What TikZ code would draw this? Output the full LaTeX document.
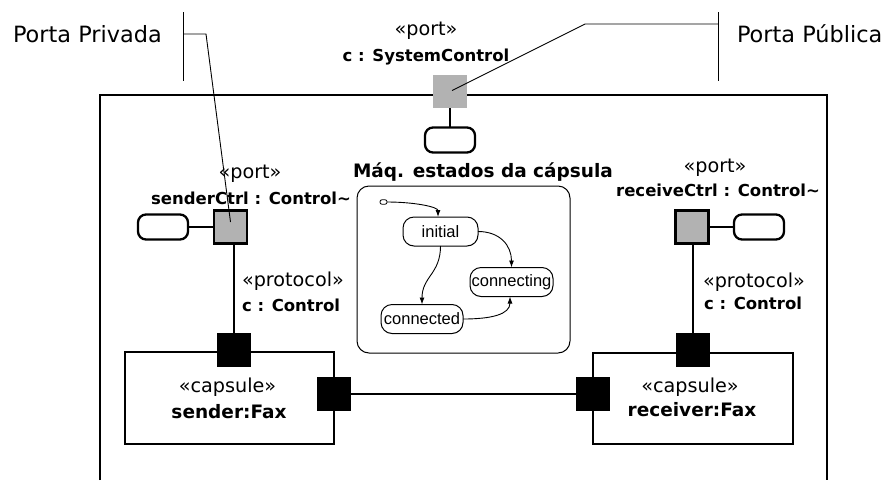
\documentclass[tikz,border=0pt]{standalone}
\usepackage{fontspec}
\setmainfont{DejaVu Sans}
\newfontfamily\statefont{Liberation Sans}
\usetikzlibrary{arrows.meta,calc}
\definecolor{portgray}{RGB}{178,178,178}
\newcommand\fsz[1]{\fontsize{#1}{#1}\selectfont}

\begin{document}
\begin{tikzpicture}[x=1pt,y=-1pt,
  every node/.style={inner sep=0pt,outer sep=0pt},
  ann/.style={anchor=base west,font=\fsz{22.4}},
  stereo/.style={anchor=base,font=\fsz{19.2}},
  bsmall/.style={anchor=base,font=\bfseries\fsz{16.5}},
  bbig/.style={anchor=base,font=\bfseries\fsz{18.5}},
  frame/.style={line width=2.5pt,line join=miter},
  wire/.style={line width=2.4pt},
  lead/.style={line width=0.9pt},
  topport/.style={fill=portgray,minimum width=34pt,minimum height=33pt},
  port/.style={draw,line width=2.3pt,fill=portgray,minimum size=33pt},
  relay/.style={fill=black,minimum size=34pt},
  pill/.style={draw,line width=2.3pt,fill=white,rounded corners=8pt,minimum width=50pt,minimum height=25pt},
  capsulebox/.style={draw,line width=1.2pt},
  smbox/.style={draw,line width=1pt,rounded corners=12pt},
  statebox/.style={draw,line width=1pt,rounded corners=11pt,minimum height=29pt,font=\statefont\fsz{16.5}},
  trans/.style={line width=0.9pt,-{Latex[length=7pt,width=5pt]}}
]
\useasboundingbox (0,0) rectangle (885,480);

% outer structure frame (open at the bottom)
\draw[frame] (100,480) -- (100,95) -- (827,95) -- (827,480);

% capsule parts
\node[capsulebox,minimum width=209pt,minimum height=92pt] (snd) at (229.5,398) {};
\node[capsulebox,minimum width=200pt,minimum height=91pt] (rcv) at (693,398.5) {};
\node[stereo] (sndSt) at (227.5,392) {«capsule»};
\node[bbig] (sndNm) at (229,418) {sender:Fax};
\node[stereo] (rcvSt) at (690,392) {«capsule»};
\node[bbig] (rcvNm) at (692,416) {receiver:Fax};

% public port on the frame
\node[topport] (pTop) at (450,91.5) {};
\node[pill] (ifTop) at (450,140) {};
\draw[wire] (pTop.south) -- (ifTop.north);
\node[stereo] (lTop1) at (426,35) {«port»};
\node[bsmall] (lTop2) at (426,61) {c : SystemControl};

% end ports
\node[port] (pSnd) at (230.5,227) {};
\node[pill] (ifSnd) at (163,227) {};
\draw[wire] (ifSnd.east) -- (pSnd.west);
\node[port] (pRcv) at (692,227) {};
\node[pill] (ifRcv) at (759,227) {};
\draw[wire] (pRcv.east) -- (ifRcv.west);
\node[stereo] (lSnd1) at (250,178) {«port»};
\node[bsmall] (lSnd2) at (251,204) {senderCtrl : Control\textasciitilde};
\node[stereo] (lRcv1) at (715,172) {«port»};
\node[bsmall] (lRcv2) at (718,196) {receiveCtrl : Control\textasciitilde};

% relay ports of the parts
\node[relay] (bSndTop) at (234,350) {};
\node[relay] (bSndR) at (334,394) {};
\node[relay] (bRcvL) at (593,394) {};
\node[relay] (bRcvTop) at (693,350) {};
\draw[wire] (bSndTop.north) -- (bSndTop.north |- pSnd.south);
\draw[wire] (bRcvTop.north) -- (bRcvTop.north |- pRcv.south);
\draw[wire] (bSndR.east) -- (bRcvL.west);

% protocol labels
\node[stereo,anchor=base west] (protS1) at (242,286) {«protocol»};
\node[bsmall,anchor=base west] (protS2) at (242,311) {c : Control};
\node[stereo,anchor=base west] (protR1) at (703,287) {«protocol»};
\node[bsmall,anchor=base west] (protR2) at (704,309) {c : Control};

% capsule state machine
\node[bbig,anchor=base west] (smTitle) at (353,177) {Máq. estados da cápsula};
\node[smbox,minimum width=213pt,minimum height=167pt] (sm) at (463.5,269.5) {};
\node[draw,line width=0.8pt,rounded corners=2pt,minimum width=7pt,minimum height=4.5pt] (i0) at (383.5,202) {};
\node[statebox,minimum width=75pt] (sInit) at (440.5,231.5) {initial};
\node[statebox,minimum width=83pt] (sCing) at (511.5,282) {connecting};
\node[statebox,minimum width=82pt] (sCed) at (422,319) {connected};
\draw[trans] (i0.east) .. controls +(28,0) and +(0,-10) .. ([xshift=-2.5pt]sInit.north);
\draw[trans] (sInit.east) .. controls +(22,0) and +(0,-22) .. (sCing.north);
\draw[trans] (sInit.south) .. controls +(0,28) and +(0,-28) .. (sCed.north);
\draw[trans] (sCed.east) .. controls +(28,0) and +(0,18) .. ([xshift=-1.5pt]sCing.south);

% callouts
\node[ann] (lblPriv) at (13,42) {Porta Privada};
\node[ann] (lblPub) at (737,42) {Porta Pública};
\coordinate (pvTop) at (183,12);
\coordinate (pvBot) at (183,81);
\coordinate (pvMid) at (183,34);
\coordinate (pvKnee) at (206,34);
\draw[lead] (pvTop) -- (pvBot);
\draw[lead] (pvMid) -- (pvKnee) -- ($(pSnd.center)+(0,-5)$);
\coordinate (pbTop) at (718,12);
\coordinate (pbBot) at (718,81);
\coordinate (pbMid) at (718,24);
\coordinate (pbKnee) at (585,24);
\draw[lead] (pbTop) -- (pbBot);
\draw[lead] (pbMid) -- (pbKnee) -- ($(pTop.center)+(2,-1)$);
\end{tikzpicture}
\end{document}
